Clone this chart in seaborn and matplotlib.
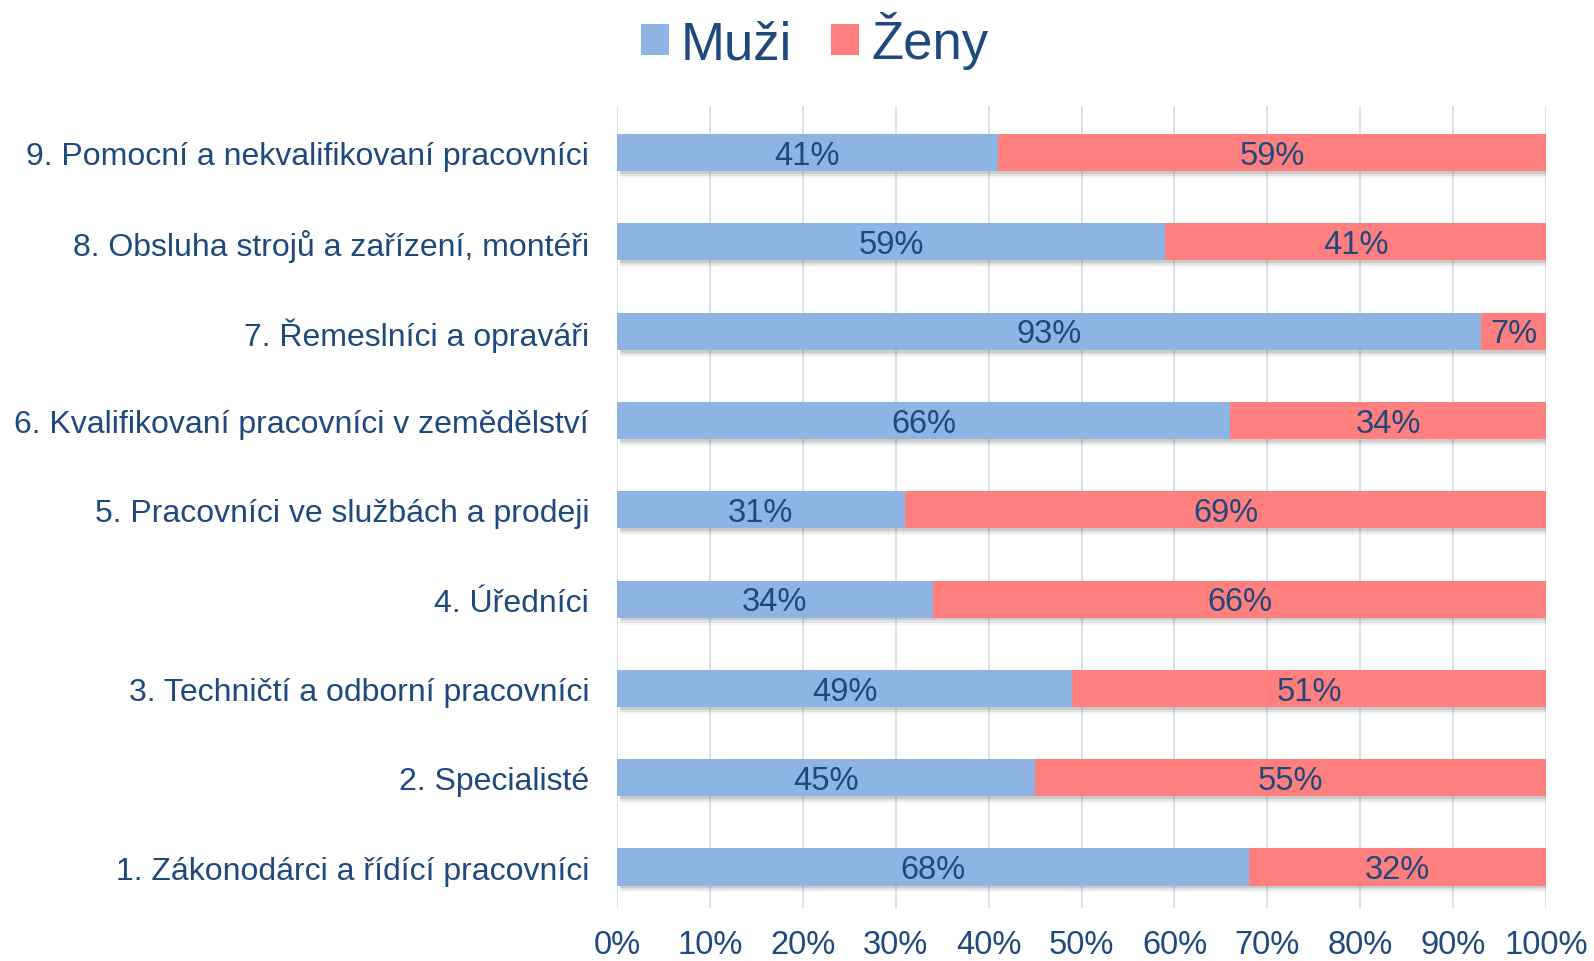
import matplotlib
matplotlib.use("Agg")
import matplotlib.pyplot as plt
import matplotlib.patheffects as pe
from matplotlib.patches import Patch
import seaborn as sns
import pandas as pd

categories = [
    "9. Pomocní a nekvalifikovaní pracovníci",
    "8. Obsluha strojů a zařízení, montéři",
    "7. Řemeslníci a opraváři",
    "6. Kvalifikovaní pracovníci v zemědělství",
    "5. Pracovníci ve službách a prodeji",
    "4. Úředníci",
    "3. Techničtí a odborní pracovníci",
    "2. Specialisté",
    "1. Zákonodárci a řídící pracovníci",
]
muzi = [41, 59, 93, 66, 31, 34, 49, 45, 68]
zeny = [59, 41, 7, 34, 69, 66, 51, 55, 32]
x_ticks = [0, 10, 20, 30, 40, 50, 60, 70, 80, 90, 100]
x_tick_labels = ["0%", "10%", "20%", "30%", "40%", "50%", "60%", "70%", "80%", "90%", "100%"]
series_names = ["Muži", "Ženy"]

BLUE = "#8DB4E2"
PINK = "#FF7F7F"
TEXT = "#1F497D"
GRID = "#D3DFF0"

sns.set_theme(style="white")
plt.rcParams["font.family"] = ["Liberation Sans", "DejaVu Sans"]

df = pd.DataFrame({"cat": categories, "muzi": muzi, "zeny": zeny})
df["total"] = df["muzi"] + df["zeny"]

fig = plt.figure(figsize=(15.94, 9.62), dpi=100)
ax = fig.add_axes([0.387, 0.055, 0.583, 0.834])

shadow = [
    pe.SimplePatchShadow(offset=(2, -2), shadow_rgbFace="#606060", alpha=0.18),
    pe.SimplePatchShadow(offset=(2.5, -3.5), shadow_rgbFace="#606060", alpha=0.12),
    pe.SimplePatchShadow(offset=(3, -5), shadow_rgbFace="#606060", alpha=0.06),
    pe.Normal(),
]

sns.barplot(data=df, y="cat", x="total", color=PINK, saturation=1, width=0.415,
            orient="h", ax=ax, order=categories, linewidth=0)
n_pink = len(ax.patches)
sns.barplot(data=df, y="cat", x="muzi", color=BLUE, saturation=1, width=0.415,
            orient="h", ax=ax, order=categories, linewidth=0)
for i, p in enumerate(ax.patches):
    if i < n_pink:
        p.set_path_effects(shadow)
    p.set_zorder(3)

for i, (m, z) in enumerate(zip(muzi, zeny)):
    ax.text(m / 2, i + 0.03, f"{m}%", ha="center", va="center", fontsize=23.5, color=TEXT, zorder=5)
    ax.text(m + z / 2, i + 0.03, f"{z}%", ha="center", va="center", fontsize=23.5, color=TEXT, zorder=5)

ax.set_xlim(0, 100)
ax.set_ylim(8.46, -0.525)
ax.set_xticks(x_ticks)
ax.set_xticklabels(x_tick_labels)
ax.grid(axis="x", color=GRID, linewidth=1.3, zorder=0)
ax.set_axisbelow(True)
for s in ax.spines.values():
    s.set_visible(False)
ax.tick_params(axis="y", length=0, pad=20, labelsize=23, labelcolor=TEXT)
ax.tick_params(axis="x", length=0, pad=15, labelsize=23.5, labelcolor=TEXT)
ax.set_xlabel("")
ax.set_ylabel("")

handles = [Patch(facecolor=BLUE, edgecolor="none"), Patch(facecolor=PINK, edgecolor="none")]
leg = fig.legend(handles, series_names, loc="center", bbox_to_anchor=(0.511, 0.957), ncol=2,
                 frameon=False, fontsize=38, handlelength=0.53, handleheight=0.53,
                 handletextpad=0.22, columnspacing=0.75)
for t in leg.get_texts():
    t.set_color(TEXT)

fig.savefig("out.png", dpi=100)
